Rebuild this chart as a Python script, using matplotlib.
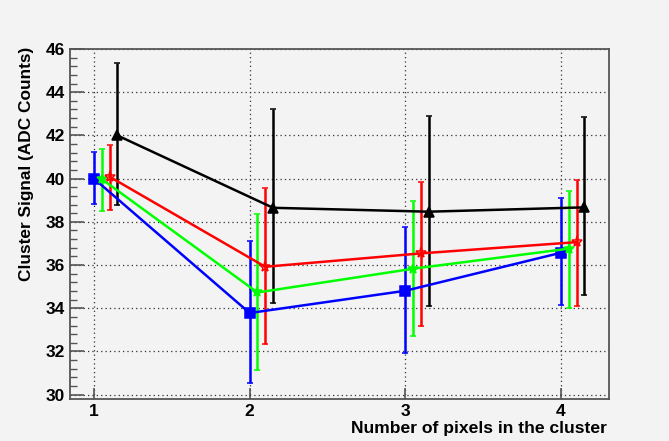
import matplotlib
matplotlib.use("Agg")
import matplotlib.pyplot as plt
import numpy as np
from matplotlib.ticker import MultipleLocator

plt.rcParams["font.family"] = ["Liberation Sans", "DejaVu Sans"]
plt.rcParams["font.weight"] = "bold"

# ---- data ----------------------------------------------------------------
n_pixels = [1, 2, 3, 4]

blue_y = [40.00, 33.78, 34.81, 36.57]
blue_hi = [41.23, 37.13, 37.78, 39.12]
blue_lo = [38.84, 30.52, 31.94, 34.13]

green_y = [39.98, 34.73, 35.83, 36.76]
green_hi = [41.36, 38.35, 38.96, 39.44]
green_lo = [38.50, 31.14, 32.71, 34.02]

red_y = [40.09, 35.92, 36.54, 37.06]
red_hi = [41.54, 39.55, 39.86, 39.94]
red_lo = [38.55, 32.34, 33.19, 34.10]

black_y = [42.00, 38.65, 38.47, 38.67]
black_hi = [45.37, 43.22, 42.91, 42.84]
black_lo = [38.78, 34.26, 34.10, 34.63]

BG = "#f3f3f3"
FRAME = "#555555"

fig = plt.figure(figsize=(6.69, 4.41), dpi=100, facecolor=BG)
ax = fig.add_axes([70 / 669, 42 / 441, 539 / 669, 350 / 441], facecolor=BG)

# (values, upper end, lower end, x shift, colour, marker, filled, size)
series = [
    (blue_y, blue_hi, blue_lo, 0.00, "#0000ff", "s", True, 6.5),
    (green_y, green_hi, green_lo, 0.05, "#00ff00", "*", True, 7.5),
    (red_y, red_hi, red_lo, 0.10, "#ff0000", "*", False, 8),
    (black_y, black_hi, black_lo, 0.15, "#000000", "^", True, 7),
]
for y, hi, lo, dx, col, mk, filled, ms in series:
    y = np.asarray(y)
    x = np.asarray(n_pixels) + dx
    yerr = [y - np.asarray(lo), np.asarray(hi) - y]
    ax.errorbar(x, y, yerr=yerr, color=col, lw=1.8, elinewidth=1.8,
                capsize=2, capthick=1.8, marker=mk, ms=ms,
                mfc=col if filled else "none", mec=col, mew=1.1, zorder=3)

ax.set_xlim(0.846, 4.308)
ax.set_ylim(29.8, 46)
ax.xaxis.set_major_locator(MultipleLocator(1))
ax.yaxis.set_major_locator(MultipleLocator(2))
ax.yaxis.set_minor_locator(MultipleLocator(0.4))

ax.grid(True, which="major", color="#333333", ls=(0, (1, 2.5)), lw=0.9, zorder=1)

ax.tick_params(axis="both", which="major", direction="in", labelsize=12.5,
               color=FRAME, width=1.2, pad=3.5)
ax.tick_params(axis="y", which="major", length=10)
ax.tick_params(axis="y", which="minor", direction="in", length=5, color=FRAME, width=1.0)
ax.tick_params(axis="x", which="major", length=8)
for lab in ax.get_xticklabels() + ax.get_yticklabels():
    lab.set_fontweight("bold")

for sp in ax.spines.values():
    sp.set_color(FRAME)
    sp.set_linewidth(1.3)

fig.text(607 / 669, 1 - 428 / 441, "Number of pixels in the cluster",
         ha="right", va="center", fontsize=12.6, fontweight="bold")
fig.text(27 / 669, 1 - 47 / 441, "Cluster Signal (ADC Counts)",
         ha="center", va="top", rotation=90, fontsize=12.4, fontweight="bold")

fig.savefig("out.png", dpi=100, facecolor=BG)
